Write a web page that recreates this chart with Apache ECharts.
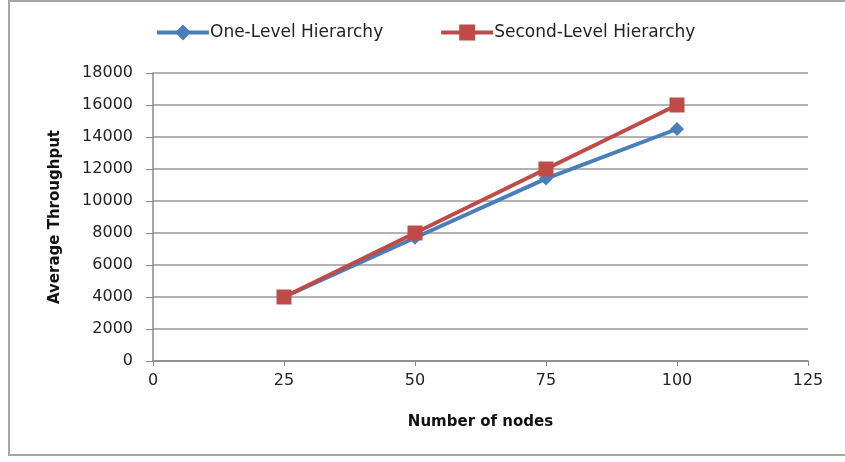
<!DOCTYPE html>
<html>
<head>
<meta charset="utf-8">
<script src="https://cdn.jsdelivr.net/npm/echarts@6/dist/echarts.min.js"></script>
<style>
  html, body { margin: 0; padding: 0; background: #fff; }
  #chart { width: 845px; height: 462px; }
</style>
</head>
<body>
<div id="chart"></div>
<script>
const nodes = [25, 50, 75, 100];
const oneLevel = [4000, 7700, 11400, 14500];
const secondLevel = [4000, 8000, 12000, 16000];
const seriesNames = ["One-Level Hierarchy", "Second-Level Hierarchy"];

const font = "DejaVu Sans";
const chart = echarts.init(document.getElementById("chart"));

chart.setOption({
  animation: false,
  textStyle: { fontFamily: font },
  graphic: [{
    type: "rect",
    shape: { x: 9, y: 1, width: 860, height: 454 },
    style: { fill: "none", stroke: "#a6a6a6", lineWidth: 2 },
    silent: true
  }],
  legend: {
    top: 19,
    left: 150,
    itemWidth: 52,
    itemHeight: 20,
    itemGap: 56,
    lineStyle: { width: 4 },
    textStyle: { fontFamily: font, fontSize: 17, color: "#222", padding: [0, 0, 0, -4] },
    data: seriesNames
  },
  grid: { left: 153, right: 37, top: 73, bottom: 101 },
  xAxis: {
    type: "value",
    min: 0,
    max: 125,
    interval: 25,
    name: "Number of nodes",
    nameLocation: "middle",
    nameGap: 54,
    nameTextStyle: { fontFamily: font, fontSize: 15, fontWeight: "bold", color: "#111" },
    axisLine: { lineStyle: { color: "#888", width: 1.5 } },
    axisTick: { show: true, length: 5, lineStyle: { color: "#888" } },
    axisLabel: { fontSize: 16, color: "#222", margin: 12 },
    splitLine: { show: false }
  },
  yAxis: {
    type: "value",
    min: 0,
    max: 18000,
    interval: 2000,
    name: "Average Throughput",
    nameLocation: "middle",
    nameGap: 90,
    nameTextStyle: { fontFamily: font, fontSize: 15, fontWeight: "bold", color: "#111" },
    axisLine: { show: true, lineStyle: { color: "#888", width: 1.5 } },
    axisTick: { show: true, length: 7, lineStyle: { color: "#888" } },
    axisLabel: { fontSize: 16, color: "#222", margin: 20, formatter: v => String(v) },
    splitLine: { show: true, lineStyle: { color: "#9a9a9a", width: 1.5 } }
  },
  series: [
    {
      name: seriesNames[0],
      type: "line",
      data: nodes.map((n, i) => [n, oneLevel[i]]),
      symbol: "diamond",
      symbolSize: 14,
      color: "#4a7ebb",
      lineStyle: { width: 4, color: "#4a7ebb" },
      itemStyle: { color: "#4a7ebb" },
      z: 2
    },
    {
      name: seriesNames[1],
      type: "line",
      data: nodes.map((n, i) => [n, secondLevel[i]]),
      symbol: "rect",
      symbolSize: 15,
      color: "#be4b48",
      lineStyle: { width: 4, color: "#be4b48" },
      itemStyle: { color: "#be4b48" },
      z: 3
    }
  ]
});
</script>
</body>
</html>
